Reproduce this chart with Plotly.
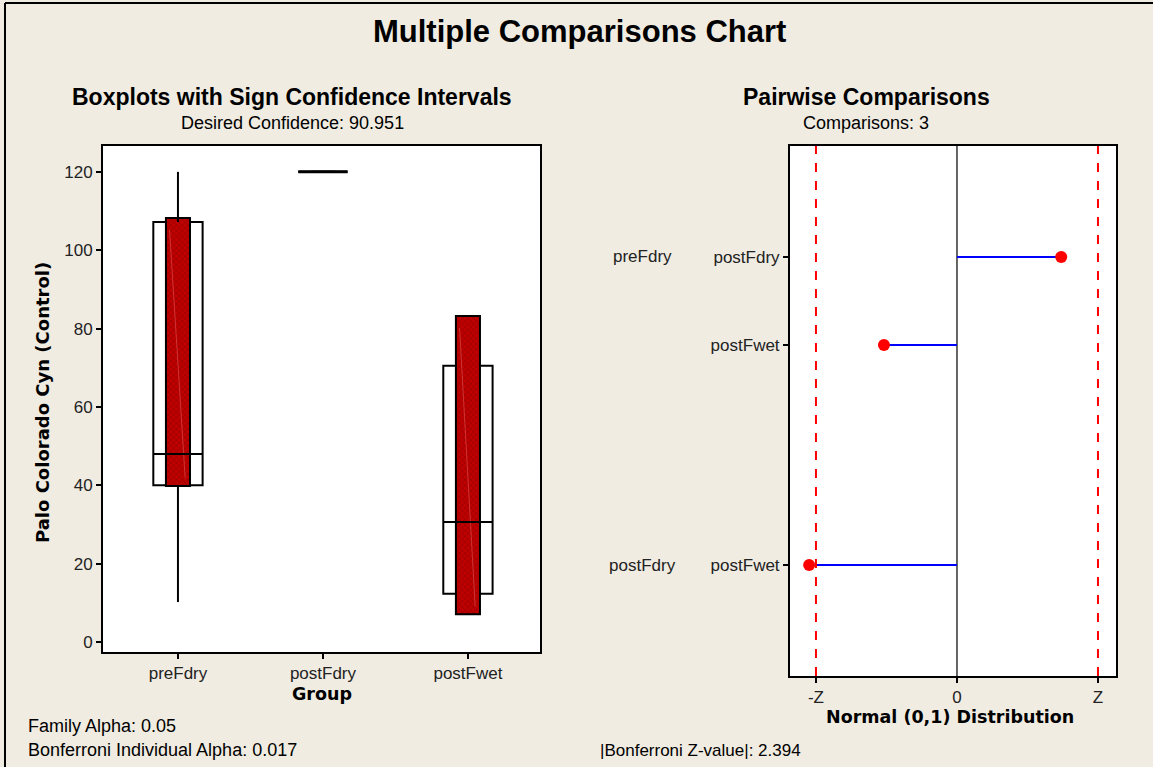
import plotly.graph_objects as go

# ---------------- data ----------------
groups = ["preFdry", "postFdry", "postFwet"]
q1 = [40.0, 120.0, 12.3]
median = [48.0, 120.0, 30.6]
q3 = [107.2, 120.0, 70.5]
whisk_lo = [10.2, 120.0, 12.3]
whisk_hi = [120.0, 120.0, 70.5]
ci_lo = [39.8, 120.0, 7.1]
ci_hi = [108.2, 120.0, 83.2]
y_ticks = [0, 20, 40, 60, 80, 100, 120]

pair_first = ["preFdry", "", "postFdry"]
pair_second = ["postFdry", "postFwet", "postFwet"]
z_values = [1.77, -1.24, -2.51]
row_pos = [0, 1, 3.5]
z_crit = 2.394

W, H = 1153, 767
BG = "#F0ECE2"
FONT = "Liberation Sans, Arial, sans-serif"
BOLDF = "DejaVu Sans, Verdana, sans-serif"


def px(x):
    return x / W


def py(y):
    return 1 - y / H


xpos = [1, 2, 3]
box_w = 0.34
ci_w = 0.166

fig = go.Figure()

# white interquartile boxes
fig.add_trace(go.Bar(
    x=xpos, y=[b - a for a, b in zip(q1, q3)], base=q1, width=box_w,
    marker=dict(color="white", line=dict(color="black", width=2)),
    xaxis="x", yaxis="y", showlegend=False, hoverinfo="skip"))

# whiskers
for i in range(len(groups)):
    for a, b in ((whisk_lo[i], q1[i]), (q3[i], whisk_hi[i])):
        if b > a:
            fig.add_trace(go.Scatter(
                x=[xpos[i], xpos[i]], y=[a, b], mode="lines",
                line=dict(color="black", width=2),
                xaxis="x", yaxis="y", showlegend=False, hoverinfo="skip"))

# red sign-confidence interval boxes
fig.add_trace(go.Bar(
    x=xpos, y=[b - a for a, b in zip(ci_lo, ci_hi)], base=ci_lo, width=ci_w,
    marker=dict(color="#BE0000", line=dict(color="black", width=2),
                pattern=dict(shape="x", fgcolor="#700000", size=4, solidity=0.3)),
    xaxis="x", yaxis="y", showlegend=False, hoverinfo="skip"))

# faint diagonal artifact line inside the CI boxes
for i in range(len(groups)):
    if ci_hi[i] > ci_lo[i]:
        fig.add_trace(go.Scatter(
            x=[xpos[i] - ci_w * 0.35, xpos[i] + ci_w * 0.3], y=[ci_hi[i] - 3, ci_lo[i] + 2],
            mode="lines", line=dict(color="rgba(255,150,150,0.35)", width=1),
            xaxis="x", yaxis="y", showlegend=False, hoverinfo="skip"))

# medians
for i in range(len(groups)):
    fig.add_trace(go.Scatter(
        x=[xpos[i] - box_w / 2, xpos[i] + box_w / 2], y=[median[i], median[i]],
        mode="lines", line=dict(color="black", width=2 if q3[i] > q1[i] else 3),
        xaxis="x", yaxis="y", showlegend=False, hoverinfo="skip"))

# ---------------- pairwise panel ----------------
for z, r in zip(z_values, row_pos):
    fig.add_trace(go.Scatter(
        x=[0, z], y=[r, r], mode="lines", line=dict(color="#0000FF", width=2),
        xaxis="x2", yaxis="y2", showlegend=False, hoverinfo="skip"))
fig.add_trace(go.Scatter(
    x=z_values, y=row_pos, mode="markers",
    marker=dict(color="#FF0000", size=12),
    xaxis="x2", yaxis="y2", showlegend=False, hoverinfo="skip"))

shapes = [
    dict(type="line", xref="x2", yref="y2 domain", x0=0, x1=0, y0=0, y1=1,
         line=dict(color="#333333", width=1.5), layer="below"),
    dict(type="line", xref="x2", yref="y2 domain", x0=-z_crit, x1=-z_crit, y0=0, y1=1,
         line=dict(color="#FF0000", width=2, dash="dash")),
    dict(type="line", xref="x2", yref="y2 domain", x0=z_crit, x1=z_crit, y0=0, y1=1,
         line=dict(color="#FF0000", width=2, dash="dash")),
    # outer frame (top and left)
    dict(type="line", xref="paper", yref="paper", x0=px(5), x1=1, y0=py(3), y1=py(3),
         line=dict(color="black", width=2)),
    dict(type="line", xref="paper", yref="paper", x0=px(5), x1=px(5), y0=py(3), y1=0,
         line=dict(color="black", width=2)),
]

annotations = []


def txt(text, x, y, size, bold=False, anchor="center", family=FONT):
    annotations.append(dict(
        text=f"<b>{text}</b>" if bold else text, x=px(x), y=py(y), xref="paper", yref="paper",
        xanchor=anchor, yanchor="middle", showarrow=False,
        font=dict(family=family, size=size, color="black")))


txt("Multiple Comparisons Chart", 579, 32, 31, bold=True)
txt("Boxplots with Sign Confidence Intervals", 292, 97, 23, bold=True)
txt("Desired Confidence: 90.951", 292, 123, 18)
txt("Pairwise Comparisons", 866, 97, 23, bold=True)
txt("Comparisons: 3", 866, 123, 18)
txt("Group", 322, 694, 17.5, bold=True, family=BOLDF)
txt("Normal (0,1) Distribution", 950, 717, 17.5, bold=True, family=BOLDF)
txt("Family Alpha: 0.05", 26, 726, 18, anchor="left")
txt("Bonferroni Individual Alpha: 0.017", 26, 750, 18, anchor="left")
txt("|Bonferroni Z-value|: 2.394", 598, 750, 17, anchor="left")
annotations.append(dict(
    text="<b>Palo Colorado Cyn (Control)</b>", x=px(42), y=py(403), xref="paper", yref="paper",
    textangle=-90, showarrow=False, xanchor="center", yanchor="middle",
    font=dict(family=BOLDF, size=18, color="black")))

# group labels on the pairwise panel
for name, r in zip(pair_first, row_pos):
    if name:
        annotations.append(dict(
            text=name, x=px(643), y=r, xref="paper", yref="y2", showarrow=False,
            xanchor="center", yanchor="middle", font=dict(family=FONT, size=17, color="#222")))

axis_common = dict(showline=True, linecolor="black", linewidth=2, mirror=True,
                   ticks="outside", ticklen=5, tickwidth=1.5, tickcolor="black",
                   showgrid=False, zeroline=False, automargin=False,
                   tickfont=dict(family=FONT, size=17, color="#222"))

fig.update_layout(
    width=W, height=H,
    margin=dict(l=0, r=0, t=0, b=0),
    paper_bgcolor=BG, plot_bgcolor="white",
    barmode="overlay",
    shapes=shapes, annotations=annotations,
    xaxis=dict(domain=[px(103), px(540)], range=[0.483, 3.497],
               tickvals=xpos, ticktext=groups, anchor="y", **axis_common),
    yaxis=dict(domain=[py(652), py(146)], range=[-2.55, 126.6],
               tickvals=y_ticks, anchor="x", **axis_common),
    xaxis2=dict(domain=[px(790), px(1116)], range=[-2.835, 2.70],
                tickvals=[-z_crit, 0, z_crit], ticktext=["-Z", "0", "Z"], anchor="y2",
                **axis_common),
    yaxis2=dict(domain=[py(676), py(146)], range=[4.76, -1.26],
                tickvals=row_pos, ticktext=pair_second, anchor="x2", **axis_common),
)

fig.write_html(
    "out.html",
    config={"displayModeBar": False},
    post_script="document.body.style.margin='0';document.body.style.overflow='hidden';"
                "document.body.style.background='" + BG + "';",
)
